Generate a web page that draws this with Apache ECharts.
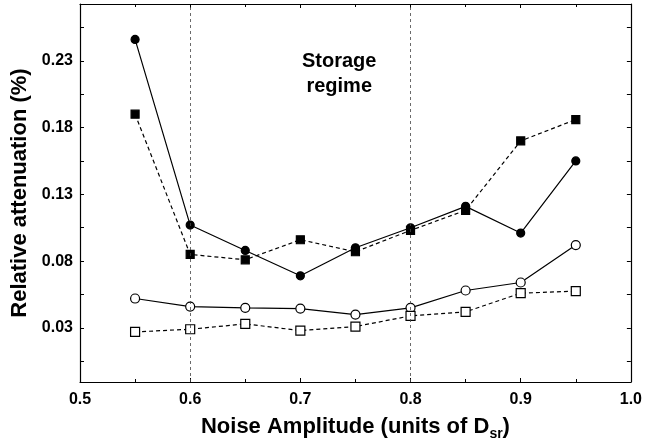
<!DOCTYPE html>
<html>
<head>
<meta charset="utf-8">
<script src="https://cdn.jsdelivr.net/npm/echarts@6/dist/echarts.min.js"></script>
<style>
  html, body { margin: 0; padding: 0; background: #fff; }
  #chart { width: 645px; height: 447px; }
</style>
</head>
<body>
<div id="chart"></div>
<script>
// Relative attenuation vs noise amplitude

const noiseAmp = [0.55, 0.6, 0.65, 0.7, 0.75, 0.8, 0.85, 0.9, 0.95];

const filledCircles = [0.246, 0.107, 0.088, 0.069, 0.090, 0.105, 0.121, 0.101, 0.155];
const filledSquares = [0.190, 0.085, 0.081, 0.096, 0.087, 0.103, 0.118, 0.170, 0.186];
const openCircles   = [0.052, 0.046, 0.045, 0.0445, 0.040, 0.045, 0.058, 0.064, 0.092];
const openSquares   = [0.027, 0.029, 0.033, 0.028, 0.031, 0.039, 0.042, 0.056, 0.0575];

const yLabels = [0.03, 0.08, 0.13, 0.18, 0.23];
const yTicks = [0.005, 0.03, 0.055, 0.08, 0.105, 0.13, 0.155, 0.18, 0.205, 0.23, 0.255];
const regimeBounds = [0.6, 0.8];

const FONT = '"Liberation Sans", Arial, sans-serif';

function pairs(ys) {
  return noiseAmp.map((x, i) => [x, ys[i]]);
}

function lineSeries(name, ys, symbol, filled, dashed, size) {
  return {
    name,
    type: 'line',
    data: pairs(ys),
    symbol,
    symbolSize: size,
    showSymbol: true,
    lineStyle: { color: '#000', width: 1.2, type: dashed ? [4, 3] : 'solid' },
    itemStyle: { color: filled ? '#000' : '#fff', borderColor: '#000', borderWidth: 1.2 },
    z: filled ? 3 : 4,
  };
}

const tickStyle = { inside: true, length: 4, lineStyle: { color: '#000', width: 1 } };
const lineAx = { show: true, onZero: false, lineStyle: { color: '#000', width: 1.2 } };

const chart = echarts.init(document.getElementById('chart'), null, { renderer: 'canvas' });

const series = [
  lineSeries('filled circles', filledCircles, 'circle', true, false, 8),
  lineSeries('filled squares', filledSquares, 'rect', true, true, 8),
  lineSeries('open circles', openCircles, 'circle', false, false, 9),
  lineSeries('open squares', openSquares, 'rect', false, true, 9),
];
series[0].markLine = {
  silent: true,
  symbol: 'none',
  label: { show: false },
  lineStyle: { color: '#444', width: 0.8, type: [3, 3] },
  data: regimeBounds.map(v => ({ xAxis: v })),
};

chart.setOption({
  animation: false,
  backgroundColor: '#fff',
  grid: { left: 80, right: 13, top: 4, bottom: 65 },
  xAxis: [
    {
      type: 'value', min: 0.5, max: 1.0, interval: 0.1,
      axisLine: lineAx,
      axisTick: tickStyle,
      minorTick: { show: true, splitNumber: 2, length: 3, lineStyle: { color: '#000' } },
      splitLine: { show: false },
      axisLabel: {
        color: '#000', fontFamily: FONT, fontWeight: 'bold', fontSize: 16, margin: 10,
        formatter: v => v.toFixed(1),
      },
      name: '{a|Noise Amplitude (units of D}{s|sr}{a|)}',
      nameLocation: 'middle',
      nameGap: 29,
      nameTextStyle: {
        rich: {
          a: { fontFamily: FONT, fontWeight: 'bold', fontSize: 22, color: '#000', lineHeight: 26 },
          s: { fontFamily: FONT, fontWeight: 'bold', fontSize: 14, color: '#000', lineHeight: 26, padding: [14, 0, 0, 0] },
        },
      },
    },
    {
      type: 'value', min: 0.5, max: 1.0, interval: 0.1, position: 'top',
      axisLine: lineAx,
      axisTick: tickStyle,
      minorTick: { show: true, splitNumber: 2, length: 3, lineStyle: { color: '#000' } },
      splitLine: { show: false },
      axisLabel: { show: false },
    },
  ],
  yAxis: [
    {
      type: 'value', min: -0.0105, max: 0.2725,
      axisLine: lineAx,
      axisTick: Object.assign({ customValues: yTicks }, tickStyle),
      splitLine: { show: false },
      axisLabel: {
        customValues: yLabels,
        color: '#000', fontFamily: FONT, fontWeight: 'bold', fontSize: 16, margin: 7,
        formatter: v => v.toFixed(2),
      },
      name: 'Relative attenuation (%)',
      nameLocation: 'middle',
      nameGap: 46,
      nameTextStyle: { fontFamily: FONT, fontWeight: 'bold', fontSize: 22, color: '#000' },
    },
    {
      type: 'value', min: -0.0105, max: 0.2725, position: 'right',
      axisLine: lineAx,
      axisTick: Object.assign({ customValues: yTicks }, tickStyle),
      splitLine: { show: false },
      axisLabel: { show: false },
    },
  ],
  graphic: [
    {
      type: 'text',
      left: 302,
      top: 49,
      style: {
        text: 'Storage\nregime',
        font: 'bold 20px ' + FONT,
        fill: '#000',
        textAlign: 'center',
        lineHeight: 25,
      },
    },
  ],
  series,
});
</script>
</body>
</html>
